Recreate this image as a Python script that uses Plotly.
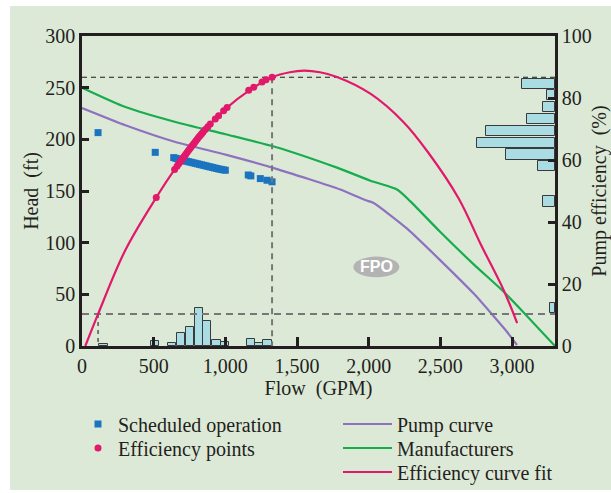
import plotly.graph_objects as go

# ---------------- data ----------------
flow_ticks = [0, 500, 1000, 1500, 2000, 2500, 3000]
flow_tick_labels = ["0", "500", "1,000", "1,500", "2,000", "2,500", "3,000"]
head_ticks = [0, 50, 100, 150, 200, 250, 300]
eff_ticks = [0, 20, 40, 60, 80, 100]

sched_flow = [112, 511, 640, 655, 670, 685, 700, 715, 730, 745, 760, 775, 790, 805, 820,
              835, 850, 865, 880, 895, 910, 925, 940, 955, 970, 985, 1000,
              1160, 1178, 1244, 1291, 1326]
sched_head = [206.5, 187.4, 182.3, 181.6, 181.0, 180.4, 179.8, 179.3, 178.8, 178.3, 177.8,
              177.3, 176.8, 176.3, 175.8, 175.3, 174.8, 174.3, 173.8, 173.3, 172.8, 172.3,
              171.8, 171.3, 170.9, 170.5, 170.1,
              165.5, 164.6, 162.0, 160.4, 158.9]

eff_pt_flow = [518, 646, 663, 675, 685, 695, 705, 715, 725, 735, 745, 755, 765, 775, 785,
               795, 805, 815, 825, 835, 845, 860, 878, 895, 930, 953, 988, 1012,
               1163, 1198, 1256, 1284, 1326]
eff_pt_eff = [47.9, 56.9, 58.0, 58.8, 59.4, 60.1, 60.7, 61.3, 61.9, 62.6, 63.2, 63.8, 64.4,
              65.0, 65.6, 66.2, 66.8, 67.4, 67.9, 68.5, 69.0, 69.8, 70.7, 71.6, 73.2, 74.3,
              75.9, 76.9, 82.5, 83.5, 85.2, 85.9, 86.7]

pump_flow = [0, 303, 652, 1001, 1350, 1802, 1979, 2035, 2268, 2500, 2733, 2966, 3035]
pump_head = [230.3, 213.6, 197.4, 185.2, 171.7, 151.4, 141.0, 138.4, 113.6, 82.9, 50.7, 13.5, 1.0]

mfr_flow = [0, 303, 652, 1001, 1350, 1779, 2012, 2198, 2291, 2500, 2733, 2942, 3081, 3300]
mfr_head = [250.0, 231.3, 216.8, 204.9, 192.6, 172.6, 160.0, 151.5, 140.0, 110.3, 79.0, 52.5, 32.5, 0.0]

fit_flow = [23, 112, 302, 518, 646, 860, 1012, 1163, 1326, 1450, 1550, 1660, 1779,
            2012, 2244, 2414, 2628, 2780, 2942, 3036]
fit_eff = [0.0, 10.3, 30.9, 47.9, 56.9, 69.8, 76.9, 82.3, 86.7, 88.3, 88.8, 88.3, 86.8,
           81.4, 72.2, 62.5, 47.6, 33.0, 18.0, 7.4]

flow_hist_center = [149, 508, 630, 689, 752, 814, 874, 938, 998, 1178, 1239, 1294]
flow_hist_height = [2.0, 4.5, 3.0, 12.3, 18.8, 36.9, 24.3, 6.2, 4.2, 6.5, 3.0, 6.2]

eff_hist_center = [84.6, 81.0, 77.1, 73.2, 69.4, 65.6, 61.8, 58.0, 46.6, 12.3]
eff_hist_length = [232, 58, 82, 198, 484, 542, 342, 116, 82, 35]

ref_flow = [112, 1326]
ref_eff = [10.3, 86.7]
flow_max = 3300

# ---------------- styling ----------------
INK = "#231f20"
SERIF = "Liberation Serif"
BAR_FILL = "#a9dce3"
BAR_LINE = "#3a3a3a"

fig = go.Figure()

# flow histogram (bottom)
fig.add_trace(go.Bar(x=flow_hist_center, y=flow_hist_height, width=58,
                     marker=dict(color=BAR_FILL, line=dict(color=BAR_LINE, width=1)),
                     showlegend=False, hoverinfo="skip"))
# efficiency histogram (right)
fig.add_trace(go.Bar(y=eff_hist_center, x=[-v for v in eff_hist_length],
                     base=flow_max, orientation="h", width=3.3, yaxis="y2",
                     marker=dict(color=BAR_FILL, line=dict(color=BAR_LINE, width=1)),
                     showlegend=False, hoverinfo="skip"))

# reference dashed lines
fig.add_trace(go.Scatter(x=[0, flow_max], y=[ref_eff[1], ref_eff[1]], yaxis="y2", mode="lines",
                         line=dict(color="#1a1a1a", width=1.2, dash="5px,4px"),
                         showlegend=False, hoverinfo="skip"))
fig.add_trace(go.Scatter(x=[ref_flow[1], ref_flow[1]], y=[ref_eff[1], 0], yaxis="y2", mode="lines",
                         line=dict(color="#777777", width=2, dash="6px,5px"),
                         showlegend=False, hoverinfo="skip"))
fig.add_trace(go.Scatter(x=[0, flow_max], y=[ref_eff[0], ref_eff[0]], yaxis="y2", mode="lines",
                         line=dict(color="#777777", width=2, dash="7px,5px"),
                         showlegend=False, hoverinfo="skip"))
fig.add_trace(go.Scatter(x=[ref_flow[0], ref_flow[0]], y=[ref_eff[0], 0], yaxis="y2", mode="lines",
                         line=dict(color="#333333", width=1.2, dash="4px,4px"),
                         showlegend=False, hoverinfo="skip"))

# curves
fig.add_trace(go.Scatter(x=pump_flow, y=pump_head, mode="lines", name="Pump curve",
                         line=dict(color="#8e72c0", width=2.2, shape="spline", smoothing=0.5),
                         legend="legend3"))
fig.add_trace(go.Scatter(x=mfr_flow, y=mfr_head, mode="lines", name="Manufacturers",
                         line=dict(color="#16ad4c", width=2.2, shape="spline", smoothing=0.6),
                         legend="legend4"))
fig.add_trace(go.Scatter(x=sched_flow, y=sched_head, mode="markers", name="Scheduled operation",
                         marker=dict(symbol="square", size=7, color="#1a74bf"),
                         legend="legend"))
fig.add_trace(go.Scatter(x=fit_flow, y=fit_eff, yaxis="y2", mode="lines", name="Efficiency curve fit",
                         line=dict(color="#e2186a", width=2.2, shape="spline", smoothing=1.0),
                         legend="legend5"))
fig.add_trace(go.Scatter(x=eff_pt_flow, y=eff_pt_eff, yaxis="y2", mode="markers", name="Efficiency points",
                         marker=dict(symbol="circle", size=7, color="#e2186a"),
                         legend="legend2"))

L, R, T, B = 82, 56, 36, 147
W, H = 611, 493
PW, PH = W - L - R, H - T - B


def px(xp):
    return (xp - L) / PW


def py(yp):
    return (H - B - yp) / PH


tickfont = dict(family=SERIF, size=20, color=INK)
legfont = dict(family=SERIF, size=20, color=INK)


def leg(xp, yp, iw=30):
    return dict(x=px(xp), y=py(yp), xanchor="left", yanchor="middle",
                bgcolor="rgba(0,0,0,0)", borderwidth=0, font=legfont, itemwidth=iw)


fig.update_layout(
    width=W, height=H, autosize=False,
    margin=dict(l=L, r=R, t=T, b=B, pad=0, autoexpand=False),
    paper_bgcolor="#ffffff",
    plot_bgcolor="#ebf5f0",
    bargap=0,
    xaxis=dict(range=[0, flow_max], tickvals=flow_ticks, ticktext=flow_tick_labels,
               ticks="inside", ticklen=9, tickwidth=2.5, tickcolor=INK,
               showline=True, linewidth=2.5, linecolor=INK, mirror=True,
               showgrid=False, zeroline=False, tickfont=tickfont, automargin=False,
               title=dict(text="Flow\u00a0 (GPM)", font=tickfont, standoff=4)),
    yaxis=dict(range=[0, 300], tickvals=head_ticks, ticks="inside", ticklen=7, tickwidth=2.5,
               tickcolor=INK, showline=True, linewidth=2.5, linecolor=INK,
               showgrid=False, zeroline=False, tickfont=tickfont, automargin=False,
               title=dict(text="Head\u00a0 (ft)", font=tickfont, standoff=2)),
    yaxis2=dict(range=[0, 100], tickvals=eff_ticks, overlaying="y", side="right",
                ticks="inside", ticklen=7, tickwidth=2.5, tickcolor=INK,
                showline=True, linewidth=2.5, linecolor=INK,
                showgrid=False, zeroline=False, tickfont=tickfont, automargin=False,
                title=dict(text="Pump efficiency\u00a0 (%)", font=tickfont, standoff=6)),
    legend=leg(78, 424),
    legend2=leg(78, 448),
    legend3=leg(338, 424, 49),
    legend4=leg(338, 448, 49),
    legend5=leg(338, 472, 49),
    shapes=[
        dict(type="rect", xref="paper", yref="paper", x0=px(10), x1=px(611), y0=py(490), y1=py(6),
             fillcolor="#dde9d7", line=dict(width=0), layer="below"),
        dict(type="circle", xref="x", yref="y", x0=1893, x1=2214, y0=66.5, y1=86.5,
             fillcolor="#b3b3b3", line=dict(width=0), layer="above"),
    ],
    annotations=[
        dict(x=2053, y=76.5, xref="x", yref="y", text="<b>FPO</b>", showarrow=False,
             font=dict(family="Liberation Sans", size=16, color="#ffffff")),
    ],
)

fig.write_html("out.html", config={"displayModeBar": False},
               post_script="document.body.style.margin='0';document.body.style.overflow='hidden';")
